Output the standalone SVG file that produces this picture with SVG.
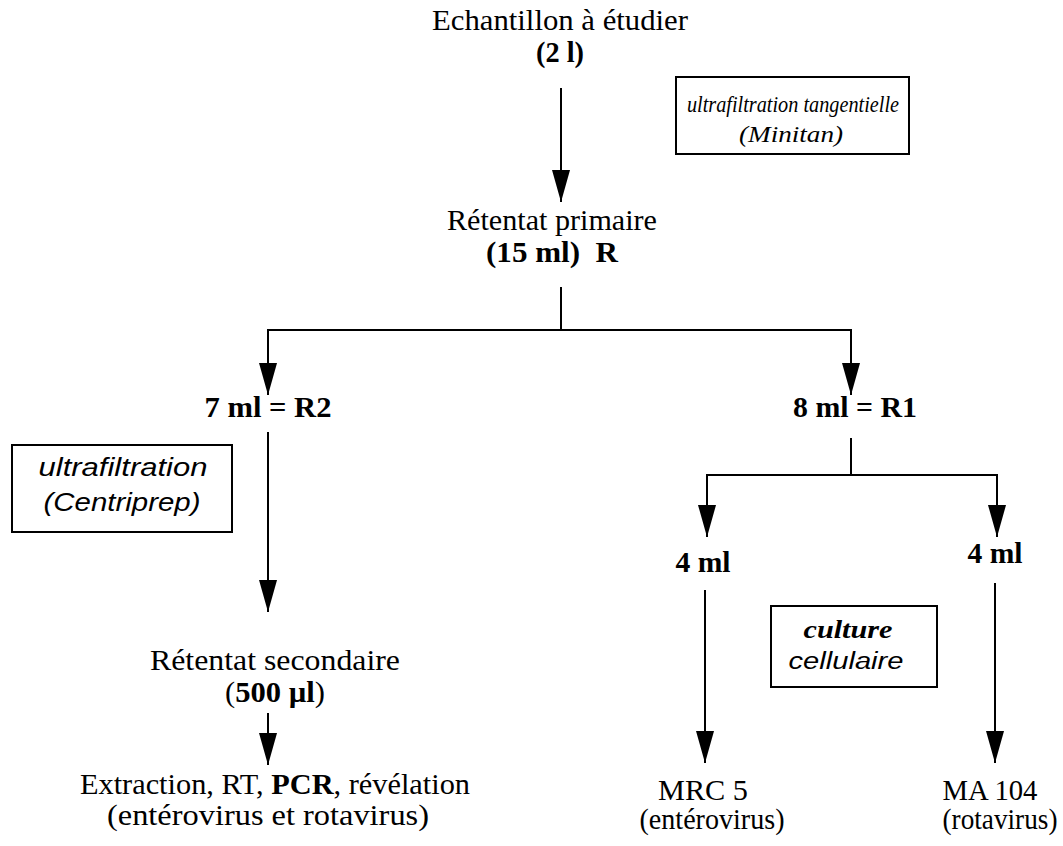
<svg xmlns="http://www.w3.org/2000/svg" width="1063" height="846" viewBox="0 0 1063 846">
<style>
.t{font-family:"Liberation Serif","Times New Roman",serif;font-size:29px;fill:#000;text-anchor:middle}
.b{font-weight:bold}
.i{font-style:italic}
.s{font-family:"Liberation Sans",Arial,sans-serif;font-style:italic;fill:#000;text-anchor:middle}
.ln{stroke:#000;stroke-width:2;fill:none}
.ar{stroke:#000;stroke-width:2;fill:none;marker-end:url(#ah)}
.box{stroke:#000;stroke-width:2;fill:#fff}
</style>
<defs>
<marker id="ah" viewBox="0 0 32 18" refX="32" refY="9" markerWidth="32" markerHeight="18" markerUnits="userSpaceOnUse" orient="auto">
<path d="M0,0 L32,9 L0,18 z" fill="#000"/>
</marker>
</defs>
<g id="connectors">
<line class="ar" x1="561" y1="88" x2="561" y2="202"/>
<line class="ln" x1="561" y1="287" x2="561" y2="330"/>
<line class="ln" x1="267" y1="330" x2="852" y2="330"/>
<line class="ar" x1="268" y1="330" x2="268" y2="395"/>
<line class="ar" x1="851" y1="330" x2="851" y2="395"/>
<line class="ar" x1="268" y1="432" x2="268" y2="612"/>
<line class="ar" x1="268" y1="713" x2="268" y2="765"/>
<line class="ln" x1="851" y1="438" x2="851" y2="475"/>
<line class="ln" x1="706" y1="475" x2="998" y2="475"/>
<line class="ar" x1="707" y1="475" x2="707" y2="537"/>
<line class="ar" x1="997" y1="475" x2="997" y2="537"/>
<line class="ar" x1="705" y1="590" x2="705" y2="763"/>
<line class="ar" x1="995" y1="583" x2="995" y2="763"/>
</g>
<g id="echantillon">
<text class="t" x="560" y="30" textLength="256" lengthAdjust="spacingAndGlyphs">Echantillon à étudier</text>
<text class="t b" x="560" y="62" textLength="48" lengthAdjust="spacingAndGlyphs">(2 l)</text>
</g>
<g id="minitan">
<rect class="box" x="676" y="77" width="233" height="77"/>
<text class="t i" style="font-size:24px" x="793" y="112" textLength="212" lengthAdjust="spacingAndGlyphs">ultrafiltration tangentielle</text>
<text class="t i" style="font-size:24px" x="791" y="142" textLength="104" lengthAdjust="spacingAndGlyphs">(Minitan)</text>
</g>
<g id="retentat-primaire">
<text class="t" x="552" y="230" textLength="210" lengthAdjust="spacingAndGlyphs">Rétentat primaire</text>
<text class="t b" x="552" y="262" textLength="132" lengthAdjust="spacingAndGlyphs" xml:space="preserve">(15 ml)  R</text>
</g>
<g id="r2">
<text class="t b" x="268" y="417" textLength="127" lengthAdjust="spacingAndGlyphs">7 ml = R2</text>
</g>
<g id="r1">
<text class="t b" x="855" y="417" textLength="124" lengthAdjust="spacingAndGlyphs">8 ml = R1</text>
</g>
<g id="centriprep">
<rect class="box" x="12" y="445" width="220" height="87"/>
<text class="s" style="font-size:25px" x="123" y="476" textLength="169" lengthAdjust="spacingAndGlyphs">ultrafiltration</text>
<text class="s" style="font-size:25px" x="122" y="511" textLength="157" lengthAdjust="spacingAndGlyphs">(Centriprep)</text>
</g>
<g id="r1a">
<text class="t b" x="703" y="572" textLength="55" lengthAdjust="spacingAndGlyphs">4 ml</text>
</g>
<g id="r1b">
<text class="t b" x="995" y="563" textLength="55" lengthAdjust="spacingAndGlyphs">4 ml</text>
</g>
<g id="retentat-secondaire">
<text class="t" x="275" y="670" textLength="250" lengthAdjust="spacingAndGlyphs">Rétentat secondaire</text>
<text class="t" x="275" y="702" textLength="100" lengthAdjust="spacingAndGlyphs">(<tspan class="b">500 µl</tspan>)</text>
</g>
<g id="culture">
<rect class="box" x="771" y="606" width="166" height="81"/>
<text class="t b i" style="font-size:25px" x="848" y="638" textLength="89" lengthAdjust="spacingAndGlyphs">culture</text>
<text class="s" style="font-size:23px" x="846" y="669" textLength="115" lengthAdjust="spacingAndGlyphs">cellulaire</text>
</g>
<g id="pcr">
<text class="t" x="275" y="794" textLength="390" lengthAdjust="spacingAndGlyphs">Extraction, RT, <tspan class="b">PCR</tspan>, révélation</text>
<text class="t" x="268" y="825" textLength="322" lengthAdjust="spacingAndGlyphs">(entérovirus et rotavirus)</text>
</g>
<g id="mrc5">
<text class="t" x="703" y="800" textLength="90" lengthAdjust="spacingAndGlyphs">MRC 5</text>
<text class="t" x="712" y="829" textLength="145" lengthAdjust="spacingAndGlyphs">(entérovirus)</text>
</g>
<g id="ma104">
<text class="t" x="990" y="800" textLength="95" lengthAdjust="spacingAndGlyphs">MA 104</text>
<text class="t" x="1000" y="829" textLength="115" lengthAdjust="spacingAndGlyphs">(rotavirus)</text>
</g>
</svg>
